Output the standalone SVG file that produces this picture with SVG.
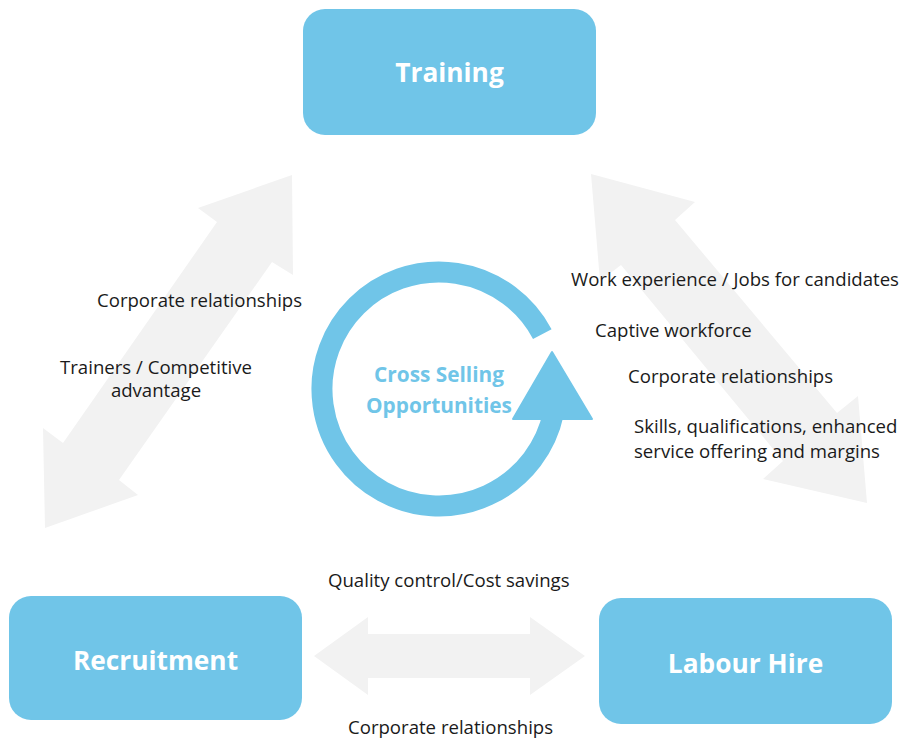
<svg xmlns="http://www.w3.org/2000/svg" width="904" height="740" viewBox="0 0 904 740">
  <style>
    .box { fill: #70C5E8; }
    .box-label { font-family: "Open Sans", "Liberation Sans", sans-serif; font-weight: 700; font-size: 26.3px; fill: #FFFFFF; text-anchor: middle; }
    .flow { fill: #F2F2F2; }
    .note { font-family: "Open Sans", "Liberation Sans", sans-serif; font-size: 18.6px; fill: #1A1A1A; }
    .centre { font-family: "Open Sans", "Liberation Sans", sans-serif; font-weight: 700; font-size: 20.8px; fill: #70C5E8; text-anchor: middle; }
  </style>
  <rect width="904" height="740" fill="#FFFFFF"/>

  <!-- double-headed connectors between the three services -->
  <g id="connectors">
    <polygon class="flow" points="292,175 293,275 272,262 119,480 138,495 45,528 43,428 63,443 217,222 198,208"/>
    <polygon class="flow" points="591,174 695,202 675,220 837,413 858,396 867,503 763,479 783,461 621,265 600,281"/>
    <polygon class="flow" points="314,656 368,617 368,634 530,634 530,617 585,656 530,695 530,678 368,678 368,695"/>
  </g>

  <!-- central cycle -->
  <g id="cross-selling">
    <path d="M 542.3 334.1 A 117 117 0 1 0 553.4 413.3" fill="none" stroke="#70C5E8" stroke-width="21"/>
    <polygon points="552,352 513,419 592,419" fill="#70C5E8" stroke="#70C5E8" stroke-width="2" stroke-linejoin="round"/>
    <text class="centre" x="439" y="382">Cross Selling</text>
    <text class="centre" x="439" y="413">Opportunities</text>
  </g>

  <g id="training">
    <rect class="box" x="303" y="9" width="293" height="126" rx="22"/>
    <text class="box-label" x="449.5" y="82">Training</text>
  </g>

  <g id="recruitment">
    <rect class="box" x="9" y="596" width="293" height="124" rx="22"/>
    <text class="box-label" x="155.5" y="670">Recruitment</text>
  </g>

  <g id="labour-hire">
    <rect class="box" x="599" y="598" width="293" height="126" rx="22"/>
    <text class="box-label" x="745.5" y="673">Labour Hire</text>
  </g>

  <!-- relationship notes -->
  <g id="notes">
    <text class="note" x="97" y="307">Corporate relationships</text>
    <text class="note" x="156" y="374" text-anchor="middle">Trainers / Competitive</text>
    <text class="note" x="156" y="397" text-anchor="middle">advantage</text>
    <text class="note" x="571" y="286">Work experience / Jobs for candidates</text>
    <text class="note" x="595" y="337">Captive workforce</text>
    <text class="note" x="628" y="383">Corporate relationships</text>
    <text class="note" x="634" y="433">Skills, qualifications, enhanced</text>
    <text class="note" x="634" y="458">service offering and margins</text>
    <text class="note" x="328" y="587">Quality control/Cost savings</text>
    <text class="note" x="348" y="734">Corporate relationships</text>
  </g>
</svg>
